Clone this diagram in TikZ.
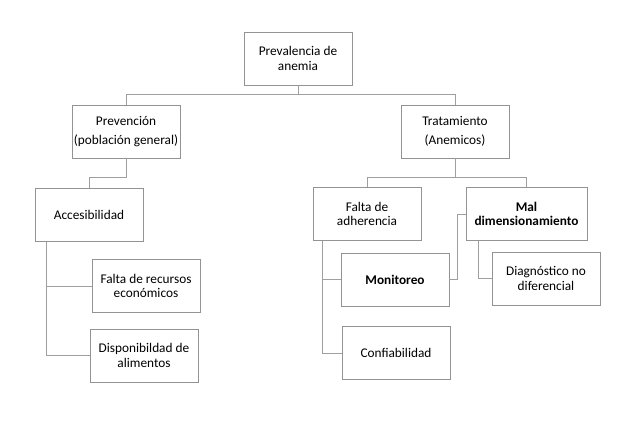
\documentclass[tikz,border=0pt]{standalone}
\usepackage{fontspec}
\setmainfont{Carlito}
\usetikzlibrary{calc}

\begin{document}
\begin{tikzpicture}
      [x = 1pt, y = -1pt,
      font = \fontsize{13.3}{14.5}\selectfont,
      box/.style= {
         draw = gray!85,
         fill = white,
         rectangle,
         align = center,
         inner sep = 1pt,
         minimum width = 108pt,
         minimum height = 53pt
      },
      boldbox/.style= {
         box,
         font = \fontsize{13.3}{14.5}\selectfont\bfseries
      },
      link/.style= {draw = gray!75, line width = 0.8pt}]

      \useasboundingbox (0, 0) rectangle (629, 424);

      \node[box] (prev) at (298, 58.5) {Prevalencia de\\anemia};
      \node[box] (preven) at (126, 131.5) {Prevención\\[4pt](población general)};
      \node[box] (trat) at (455, 131.5) {Tratamiento\\[4pt](Anemicos)};

      \node[box] (acces) at (89, 215) {Accesibilidad};
      \node[box] (recursos) at (146, 286) {Falta de recursos\\económicos};
      \node[box] (alim) at (144, 355.5) {Disponibildad de\\alimentos};

      \node[box] (adher) at (367, 214) {Falta de\\adherencia};
      \node[boldbox, minimum width = 121pt] (maldim) at (526.5, 214) {Mal\\dimensionamiento};
      \node[boldbox] (monit) at (395, 279.5) {Monitoreo};
      \node[box] (confi) at (396, 353) {Confiabilidad};
      \node[box] (diag) at (546, 278.5) {Diagnóstico no\\diferencial};

      \coordinate (accesbar) at ($(acces.south west) + (12, 0)$);
      \coordinate (adherbar) at ($(adher.south west) + (10, 0)$);
      \coordinate (maldimbar) at ($(maldim.south west) + (13, 0)$);

      \draw[link] (prev.south) -- ++(0, 9) -| (preven.north);
      \draw[link] (prev.south) -- ++(0, 9) -| (trat.north);
      \draw[link] (preven.south) -- ++(0, 19) -| (acces.north);
      \draw[link] (trat.south) -- ++(0, 19) -| (adher.north);
      \draw[link] (trat.south) -- ++(0, 19) -| (maldim.north);

      \draw[link] (accesbar) |- (recursos.west);
      \draw[link] (accesbar) |- (alim.west);
      \draw[link] (adherbar) |- (monit.west);
      \draw[link] (adherbar) |- (confi.west);
      \draw[link] (maldimbar) |- (diag.west);
      \draw[link] (monit.east) -- ++(8, 0) |- (maldim.west);

   \end{tikzpicture}
\end{document}
